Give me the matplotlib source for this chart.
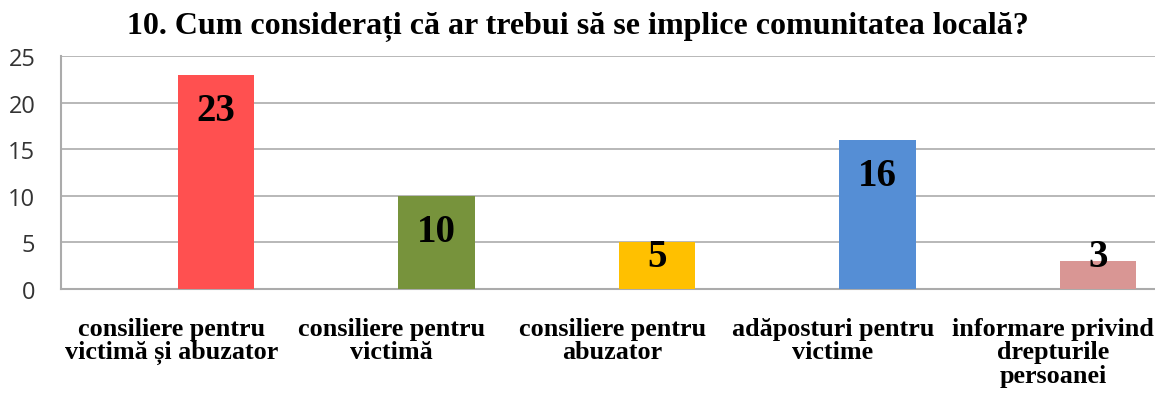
import matplotlib
matplotlib.use("Agg")
import matplotlib.pyplot as plt
import numpy as np

title = "10. Cum considerați că ar trebui să se implice comunitatea locală?"
categories = [
    "consiliere pentru\nvictimă și abuzator",
    "consiliere pentru\nvictimă",
    "consiliere pentru\nabuzator",
    "adăposturi pentru\nvictime",
    "informare privind\ndrepturile\npersoanei",
]
values = [23, 10, 5, 16, 3]
colors = ["#FF5050", "#77933C", "#FFC000", "#558ED5", "#D99694"]
yticks = [0, 5, 10, 15, 20, 25]

W, H = 1155, 402
fig = plt.figure(figsize=(W / 100, H / 100), dpi=100)
left_px, right_px, top_px, bottom_px = 61, 1163.5, 57, 290
ax = fig.add_axes([left_px / W, (H - bottom_px) / H,
                   (right_px - left_px) / W, (bottom_px - top_px) / H])

x = np.arange(len(categories))
offset = 0.203
width = 0.345
ax.bar(x + offset, values, width=width, color=colors, zorder=3)

ax.set_xlim(-0.5, len(categories) - 0.5)
ax.set_ylim(0, 25)
ax.set_yticks(yticks)
ax.yaxis.grid(True, color="#ABABAB", linewidth=1.2, zorder=0)
ax.set_axisbelow(True)
for s in ["top", "right"]:
    ax.spines[s].set_visible(False)
for s in ["left", "bottom"]:
    ax.spines[s].set_color("#ABABAB")
    ax.spines[s].set_linewidth(1.5)

ax.tick_params(axis="y", length=0, pad=18.5, labelsize=17, labelcolor="#333333")
for lbl in ax.get_yticklabels():
    lbl.set_family("Open Sans")
ax.set_xticks(x)
ax.set_xticklabels(categories, fontfamily="Liberation Serif", fontweight="bold",
                   fontsize=18.8, linespacing=1.03, multialignment="center")
ax.tick_params(axis="x", length=0, pad=20)

for xi, v in zip(x, values):
    ly = max(v - 3.8, 3.45)
    ax.text(xi + offset, ly, str(v), ha="center", va="center",
            fontfamily="Liberation Serif", fontweight="bold", fontsize=28,
            color="black", zorder=4)

fig.text(0.5, 1 - 27 / H, title, ha="center", va="center",
         fontfamily="Liberation Serif", fontweight="bold", fontsize=23)

fig.savefig("out.png", dpi=100)
